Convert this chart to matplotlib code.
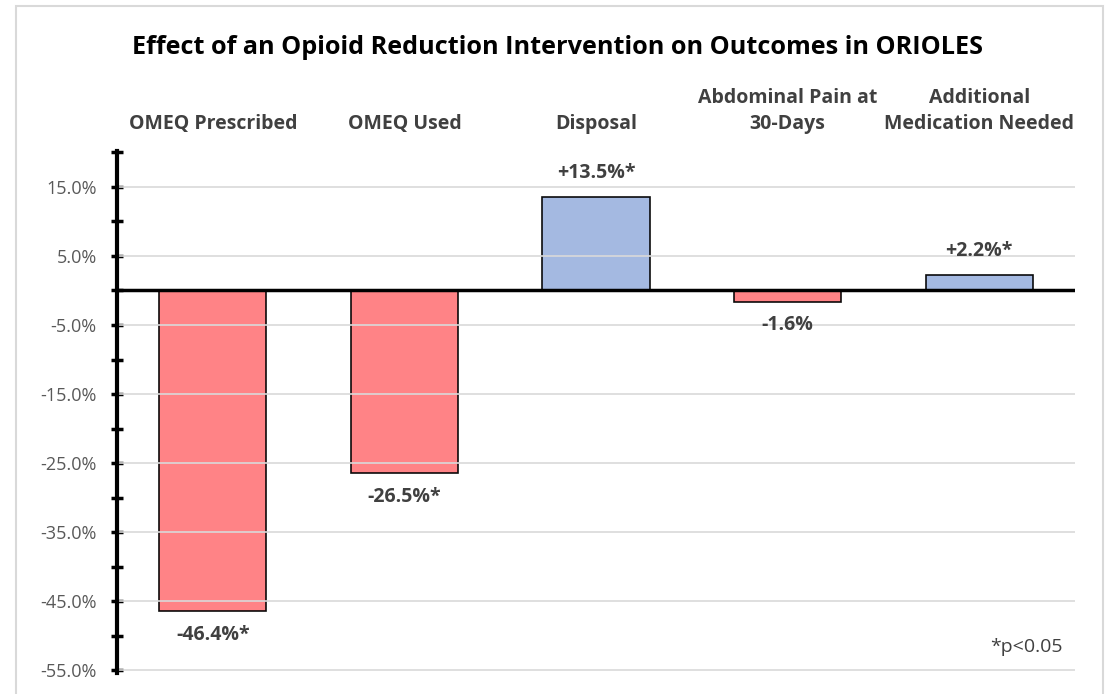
import matplotlib
matplotlib.use("Agg")
import matplotlib.pyplot as plt
from matplotlib.patches import Rectangle
from matplotlib.ticker import FixedLocator

categories = ["OMEQ Prescribed", "OMEQ Used", "Disposal", "Abdominal Pain at\n30-Days", "Additional\nMedication Needed"]
values = [-46.4, -26.5, 13.5, -1.6, 2.2]
labels = ["-46.4%*", "-26.5%*", "+13.5%*", "-1.6%", "+2.2%*"]
ytick_vals = [15, 5, -5, -15, -25, -35, -45, -55]
ytick_labels = ["15.0%", "5.0%", "-5.0%", "-15.0%", "-25.0%", "-35.0%", "-45.0%", "-55.0%"]
minor_vals = [20, 10, 0, -10, -20, -30, -40, -50]

RED = "#FF7C80"
BLUE = "#9FB6E0"
TXT = "#404040"

plt.rcParams['font.family'] = ['Open Sans', 'DejaVu Sans']

W, H = 1106, 694
fig = plt.figure(figsize=(W / 100, H / 100), dpi=100)
fig.patches.append(Rectangle((16 / W, -0.01), (1103 - 16) / W, 1 - 5.5 / H + 0.01,
                             transform=fig.transFigure, fill=False, edgecolor="#D9D9D9", lw=1.5))

left, right = 117 / W, 1075 / W
top, bottom = 1 - 151 / H, 1 - 673 / H
ax = fig.add_axes([left, bottom, right - left, top - bottom])

x = list(range(len(categories)))
colors = [RED if v < 0 else BLUE for v in values]
ax.bar(x, values, width=0.56, color=colors, edgecolor="black", linewidth=1.2, zorder=2, alpha=0.95)

ax.set_xlim(-0.5, 4.5)
ax.set_ylim(-55.4, 20.2)

for y in ytick_vals:
    ax.axhline(y, color="#D9D9D9", lw=1.2, zorder=3)
ax.axhline(0, color="black", lw=2.5, zorder=4)

for s in ["top", "right", "bottom"]:
    ax.spines[s].set_visible(False)
ax.spines["left"].set_linewidth(3)
ax.spines["left"].set_zorder(5)

ax.yaxis.set_major_locator(FixedLocator(ytick_vals))
ax.set_yticklabels(ytick_labels)
ax.yaxis.set_minor_locator(FixedLocator(minor_vals))
ax.tick_params(axis="y", which="both", direction="inout", length=9, width=2.5, color="black",
               labelsize=13, labelcolor="#595959", pad=10)
ax.set_xticks([])

for xi, v, lab in zip(x, values, labels):
    if v >= 0:
        ax.annotate(lab, (xi, v), xytext=(0, 10), textcoords="offset points",
                    ha="center", va="bottom", fontsize=14, fontweight="bold", color=TXT)
    else:
        ax.annotate(lab, (xi, v), xytext=(0, -10), textcoords="offset points",
                    ha="center", va="top", fontsize=14, fontweight="bold", color=TXT)

for xi, c in zip(x, categories):
    ax.annotate(c, (xi, 20.2), xytext=(0, 12), textcoords="offset points", ha="center", va="bottom",
                fontsize=14, fontweight="bold", color=TXT, linespacing=1.45)

fig.text(558 / W, 1 - 47 / H, "Effect of an Opioid Reduction Intervention on Outcomes in ORIOLES",
         ha="center", va="center", fontsize=18.2, fontweight="bold", color="black")

fig.text(1063 / W, 1 - 647 / H, "*p<0.05", ha="right", va="center", fontsize=14, color=TXT)

fig.savefig("out.png", dpi=100)
